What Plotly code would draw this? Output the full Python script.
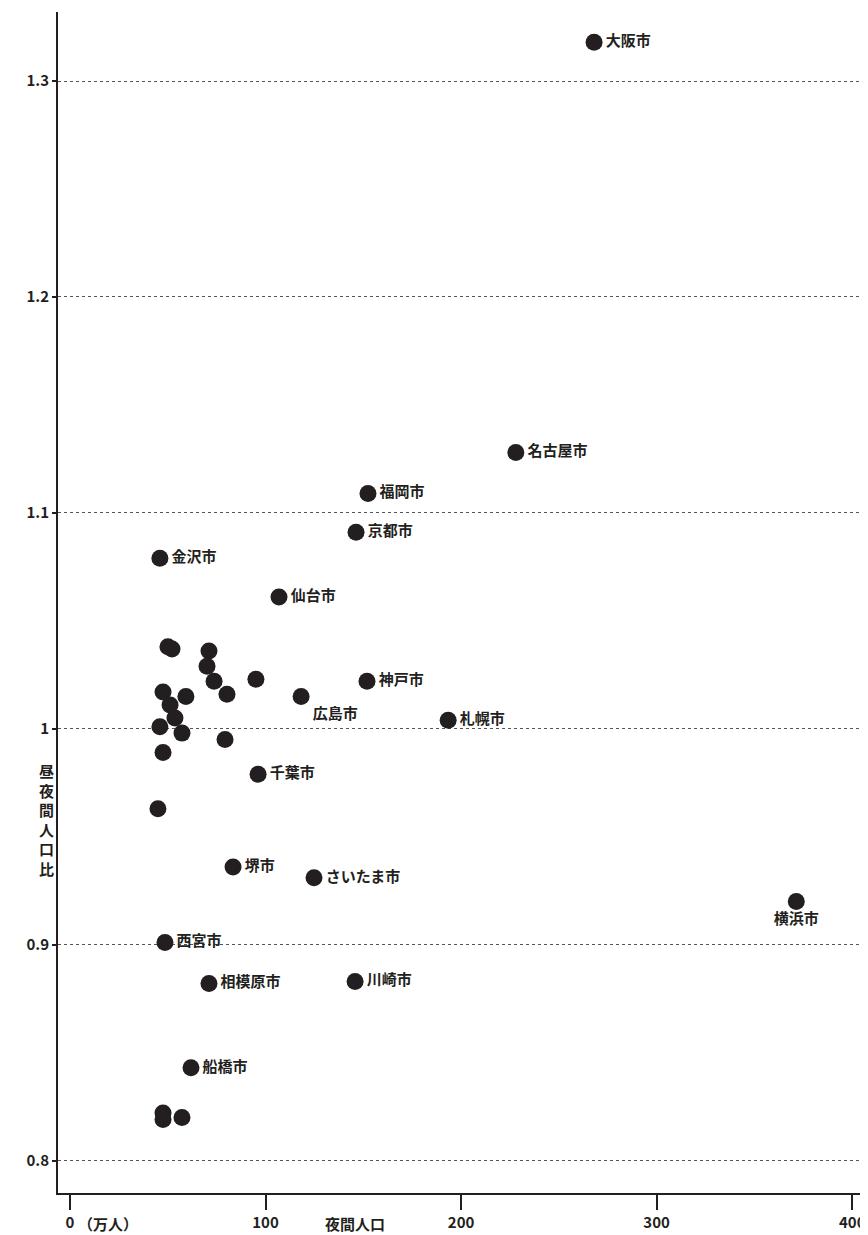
import plotly.graph_objects as go

# 夜間人口（万人）, 昼夜間人口比
names = ["大阪市", "名古屋市", "福岡市", "京都市", "金沢市", "仙台市", "神戸市", "広島市",
         "札幌市", "千葉市", "堺市", "さいたま市", "横浜市", "西宮市", "相模原市", "川崎市",
         "船橋市", "", "", "",
         "", "", "", "", "", "", "", "", "", "", "", "", "", "", "", ""]
pop = [268, 228, 152.4, 146.3, 46, 106.9, 151.9, 118.2,
       193.4, 96.2, 83.4, 124.8, 371.4, 48.6, 71.1, 145.8,
       61.9, 47.6, 47.6, 57.3,
       50.1, 52.2, 71.1, 70.1, 73.7, 95.1, 47.6, 59.3, 80.3, 51.2, 53.7, 46, 57.3, 79.3, 47.6, 45]
ratio = [1.318, 1.128, 1.109, 1.091, 1.079, 1.061, 1.022, 1.015,
         1.004, 0.979, 0.936, 0.931, 0.920, 0.901, 0.882, 0.883,
         0.843, 0.822, 0.819, 0.820,
         1.038, 1.037, 1.036, 1.029, 1.022, 1.023, 1.017, 1.015, 1.016, 1.011, 1.005, 1.001, 0.998, 0.995, 0.989, 0.963]
positions = ["middle right"] * len(names)
positions[7] = "bottom right"
positions[12] = "bottom center"

xticks = [0, 100, 200, 300, 400]
yticks = [0.8, 0.9, 1.0, 1.1, 1.2, 1.3]
yticklabels = ["0.8", "0.9", "1", "1.1", "1.2", "1.3"]

font = "Noto Sans CJK JP"
tickfont = dict(family=font, size=15, color="#231f20", weight="bold")

fig = go.Figure(go.Scatter(
    x=pop, y=ratio, mode="markers+text", text=names, textposition=positions,
    marker=dict(size=17, color="#231f20"),
    textfont=dict(family=font, size=15, color="#231f20", weight="bold"),
    cliponaxis=False,
))

fig.update_layout(
    width=860, height=1227, showlegend=False,
    plot_bgcolor="white", paper_bgcolor="white",
    margin=dict(l=50, r=6, t=4, b=42, autoexpand=False),
    font=dict(family=font, size=15, color="#231f20"),
    xaxis=dict(range=[-6.1, 405], tickvals=xticks, ticktext=["0", "100", "200", "300", "400"],
               tickfont=tickfont,
               showline=True, linecolor="#231f20", linewidth=2, showgrid=False, zeroline=False,
               automargin=False, ticks="outside", ticklen=15, tickwidth=1.5, tickcolor="#231f20"),
    yaxis=dict(range=[0.785, 1.332], tickvals=yticks, ticktext=yticklabels, tickfont=tickfont,
               showline=True, linecolor="#231f20", linewidth=2, zeroline=False,
               showgrid=True, gridcolor="#555", griddash="dot", gridwidth=1, automargin=False,
               ticks="outside", ticklen=4, tickwidth=1.5, tickcolor="#231f20"),
)
fig.add_annotation(x=3, y=0, xref="x", yref="paper", yshift=-18, text="<b>（万人）</b>", showarrow=False,
                   xanchor="left", yanchor="top", font=dict(size=15))
fig.add_annotation(x=146, y=0, xref="x", yref="paper", yshift=-18, text="<b>夜間人口</b>", showarrow=False,
                   xanchor="center", yanchor="top", font=dict(size=15))
fig.add_annotation(x=0, y=0.958, xref="paper", yref="y", xshift=-2,
                   text="<b>昼<br>夜<br>間<br>人<br>口<br>比</b>", showarrow=False,
                   xanchor="right", yanchor="middle", font=dict(size=15))
fig.write_html("out.html")
